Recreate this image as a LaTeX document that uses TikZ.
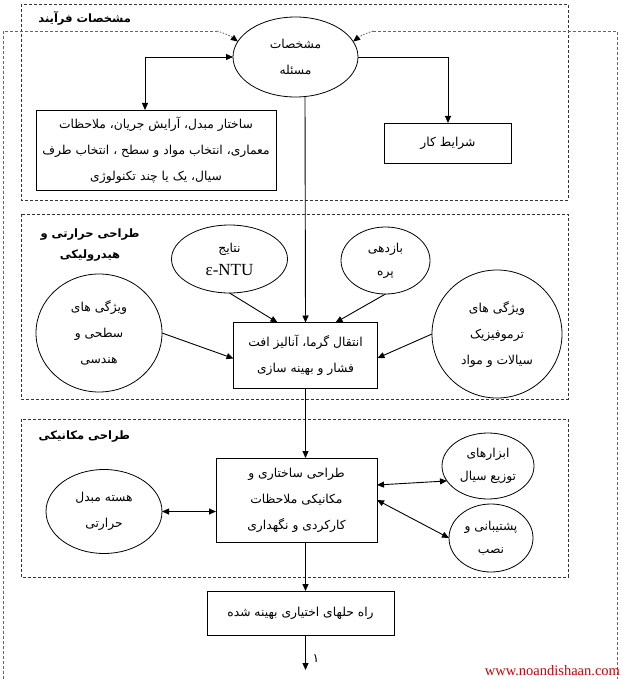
\documentclass[tikz,border=0pt]{standalone}
\usepackage{fontspec}
\setmainfont{Liberation Serif}
\newfontfamily\arabicfont[Script=Arabic]{DejaVu Sans}
\TeXXeTstate=1
\usetikzlibrary{shapes.geometric,arrows.meta}
\newcommand\fa[1]{{\arabicfont\beginR #1\endR}}
\definecolor{wmred}{RGB}{210,0,0}
\tikzset{
  every node/.style={inner sep=0pt, outer sep=0pt},
  lbl/.style={font=\fontsize{12.3}{26}\selectfont, align=center},
  sml/.style={font=\fontsize{12.3}{23}\selectfont},
  ell/.style={ellipse, draw, line width=0.8pt, fill=white, lbl},
  box/.style={rectangle, draw, line width=0.8pt, fill=white, lbl},
  frame/.style={draw=black!80, dash pattern=on 3pt off 2pt, line width=0.7pt},
  tip/.style={-{Triangle[length=7pt,width=6pt]}},
  conn/.style={line width=0.9pt, tip},
  dconn/.style={line width=0.9pt, {Triangle[length=7pt,width=6pt]}-{Triangle[length=7pt,width=6pt]}},
  dotarr/.style={line width=0.8pt, draw=black!65, dash pattern=on 1.5pt off 1.5pt, -{Triangle[length=7pt,width=6pt,color=black]}},
  ttl/.style={font=\fontsize{11.5}{21}\selectfont\bfseries, align=center},
}
\begin{document}
\begin{tikzpicture}[x=1pt,y=-1pt]
\useasboundingbox (0,0) rectangle (622,679);
\fill[white] (0,0) rectangle (622,679);

% frames
\draw[frame] (21,4) rectangle (568,200);
\draw[frame] (21,214) rectangle (568,399);
\draw[frame] (21,419) rectangle (568,577);
\draw[frame, draw=black!60] (3,679) -- (3,31) -- (217,31);
\draw[frame, draw=black!60] (373,31) -- (617,31) -- (617,679);

% titles
\node[ttl, anchor=east] (t1) at (131,18) {\fa{مشخصات فرآیند}};
\node[ttl] (t2) at (90,245) {\fa{طراحی حرارتی و}\\\fa{هیدرولیکی}};
\node[ttl, anchor=east] (t3) at (130,437) {\fa{طراحی مکانیکی}};

% section 1
\node[ell, minimum width=125, minimum height=80] (ps) at (295.5,57) {\fa{مشخصات}\\\fa{مسئله}};
\node[box, minimum width=240, minimum height=80] (arch) at (156,150)
  {\fa{ساختار مبدل، آرایش جریان، ملاحظات}\\\fa{معماری، انتخاب مواد و سطح ، انتخاب طرف}\\\fa{سیال، یک یا چند تکنولوژی}};
\node[box, minimum width=127, minimum height=40] (cond) at (448,143) {\fa{شرایط کار}};

\coordinate (dl) at (217,31);
\coordinate (dr) at (373,31);
\draw[dotarr] (dl) to[bend left=10] (ps.165);
\draw[dotarr] (dr) to[bend right=10] (ps.15);

\draw[dconn] (ps.west) -| ([xshift=-11pt]arch.north);
\draw[conn] (ps.east) -| (cond.north);

% section 2
\node[box, minimum width=144, minimum height=66] (ht) at (305.5,355.5)
  {\fa{انتقال گرما، آنالیز افت}\\\fa{فشار و بهینه سازی}};
\node[ell, sml, minimum width=116, minimum height=68] (n1) at (229.5,259)
  {\fa{نتایج}\\{\fontsize{17}{18}\selectfont ε-NTU}};
\node[ell, sml, minimum width=89, minimum height=67] (bz) at (385.5,260.5) {\fa{بازدهی}\\\fa{پره}};
\node[ell, minimum width=126, minimum height=118] (sg) at (99,333)
  {\fa{ویژگی های}\\\fa{سطحی و}\\\fa{هندسی}};
\node[ell, minimum width=130, minimum height=128] (tf) at (497,334)
  {\fa{ویژگی های}\\\fa{ترموفیزیک}\\\fa{سیالات و مواد}};

\draw[conn] ([xshift=9.5pt]ps.south) -- (ht.north);
\draw[conn] (n1.south) -- ([xshift=-28pt]ht.north);
\draw[conn] (bz.south) -- ([xshift=30pt]ht.north);
\draw[conn] (sg.east) -- ([yshift=-3pt]ht.west);
\draw[conn] (tf.west) -- ([yshift=-2.5pt]ht.east);

% section 3
\node[box, minimum width=161, minimum height=84] (md) at (296.5,500)
  {\fa{طراحی ساختاری و}\\\fa{مکانیکی ملاحظات}\\\fa{کارکردی و نگهداری}};
\node[ell, minimum width=116, minimum height=84] (hs) at (104,511.5) {\fa{هسته مبدل}\\\fa{حرارتی}};
\node[ell, sml, minimum width=92, minimum height=66] (ab) at (488,466) {\fa{ابزارهای}\\\fa{توزیع سیال}};
\node[ell, sml, minimum width=84, minimum height=68] (pn) at (491,538) {\fa{پشتیبانی و}\\\fa{نصب}};

\draw[conn] (ht.south) -- (ht.south |- md.north);
\draw[dconn] (hs.east) -- (hs.east -| md.west);
\draw[dconn] ([yshift=15pt]md.east) -- (ab.200);
\draw[dconn] (md.east) -- (pn.west);

% result
\node[box, minimum width=187, minimum height=44] (sol) at (300.5,613) {\fa{راه حلهای اختیاری بهینه شده}};
\draw[conn] (ht.south |- md.south) -- (ht.south |- sol.north);
\coordinate (end) at (305.5,670);
\draw[conn] (ht.south |- sol.south) -- (end);
\node[lbl] (one) at (316,659) {\fa{۱}};

\node[font=\fontsize{14.5}{16}\selectfont, text=wmred, anchor=east] (wm) at (620,671) {www.noandishaan.com};
\end{tikzpicture}
\end{document}
